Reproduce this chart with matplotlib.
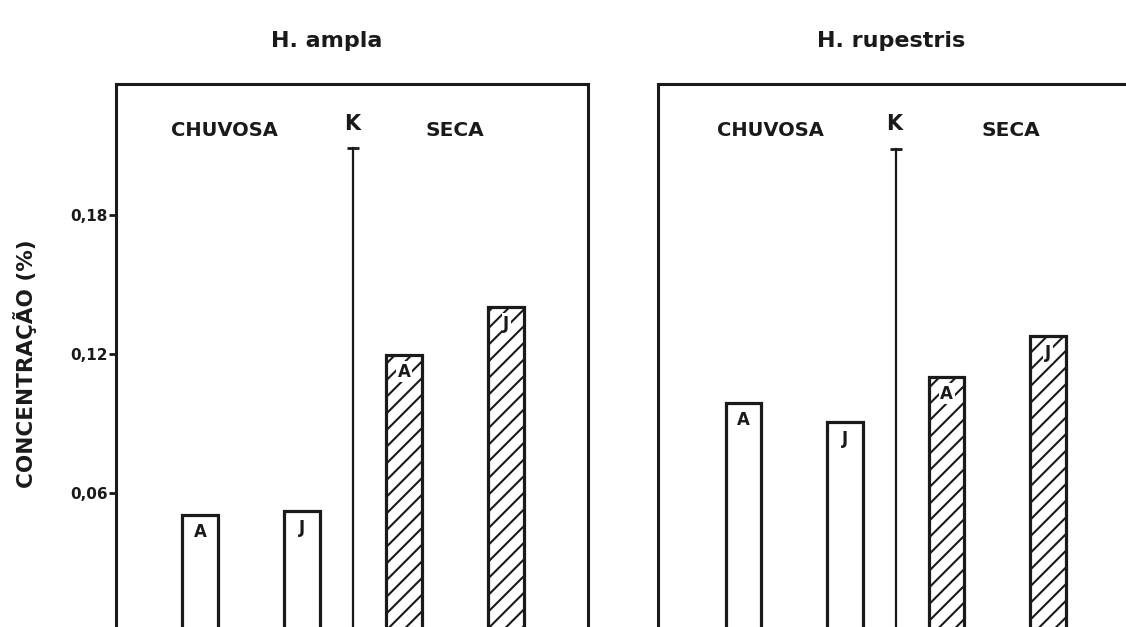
import numpy as np
import matplotlib
matplotlib.use('Agg')
from matplotlib import pyplot as plt

# valores (concentracao em %)
especies = ["H. ampla", "H. rupestris"]
estacoes = ["CHUVOSA", "SECA"]
letras = ["A", "J", "A", "J"]
ampla = [0.0505, 0.0522, 0.1196, 0.1403]
rupestris = [0.0988, 0.0906, 0.1101, 0.1278]
k_topo = [0.2089, 0.2085]
yticks = [0.06, 0.12, 0.18]
ytick_labels = ["0,06", "0,12", "0,18"]

plt.rcParams['font.family'] = ['DejaVu Sans']
plt.rcParams['font.weight'] = 'bold'
plt.rcParams['hatch.linewidth'] = 1.5
plt.rcParams['hatch.color'] = '#1a1a1a'

fig = plt.figure(figsize=(11.26, 6.27), dpi=100)
ax1 = fig.add_axes([0.103, -0.008, 0.419, 0.874])
ax2 = fig.add_axes([0.584, -0.008, 0.419, 0.874])

x = np.arange(4)
cor = '#1a1a1a'

for ax, vals, titulo, kt, xlim, pos_lab, tx in [
        (ax1, ampla, especies[0], k_topo[0], (-0.822, 3.797), (0.235, 1.49, 2.50), 0.447),
        (ax2, rupestris, especies[1], k_topo[1], (-0.847, 3.80), (0.266, 1.48, 2.63), 0.496)]:
    hatches = ['', '', '//', '//']
    for xi, v, h, l in zip(x, vals, hatches, letras):
        ax.bar(xi, v, width=0.35, facecolor='white', edgecolor=cor,
               linewidth=2.3, hatch=h, zorder=2)
        ax.annotate(l, (xi, v), xytext=(0, -12), textcoords='offset points',
                    ha='center', va='center', fontsize=12, fontweight='bold',
                    color=cor, zorder=4,
                    bbox=dict(boxstyle='square,pad=0.1', fc='white', ec='none'))
    # linha K
    ax.plot([1.5, 1.5], [0, kt], color=cor, lw=1.6, zorder=1)
    ax.plot([1.5], [kt], marker='_', markersize=9, mew=2, color=cor)
    ax.text(pos_lab[0], 0.2167, estacoes[0], ha='center', va='center',
            fontsize=14, fontweight='bold', color=cor)
    ax.text(pos_lab[1], 0.2195, "K", ha='center', va='center',
            fontsize=15, fontweight='bold', color=cor)
    ax.text(pos_lab[2], 0.2167, estacoes[1], ha='center', va='center',
            fontsize=14.5, fontweight='bold', color=cor)

    ax.set_xlim(*xlim)
    ax.set_ylim(0, 0.2366)
    ax.set_xticks([])
    for s in ax.spines.values():
        s.set_linewidth(2.2)
        s.set_color(cor)
    ax.text(tx, 1.078, titulo, transform=ax.transAxes, ha='center',
            va='center', fontsize=16, fontweight='bold', color=cor)

ax1.set_yticks(yticks)
ax1.set_yticklabels(ytick_labels, fontsize=11, fontweight='bold', color=cor)
ax1.tick_params(axis='y', length=5, width=2, color=cor, pad=1)
ax1.set_ylabel("CONCENTRAÇÃO (%)", fontsize=15.5, fontweight='bold', color=cor)
ax1.yaxis.set_label_coords(-0.168, 0.49)
ax2.set_yticks([])

fig.savefig('out.png', dpi=100)
